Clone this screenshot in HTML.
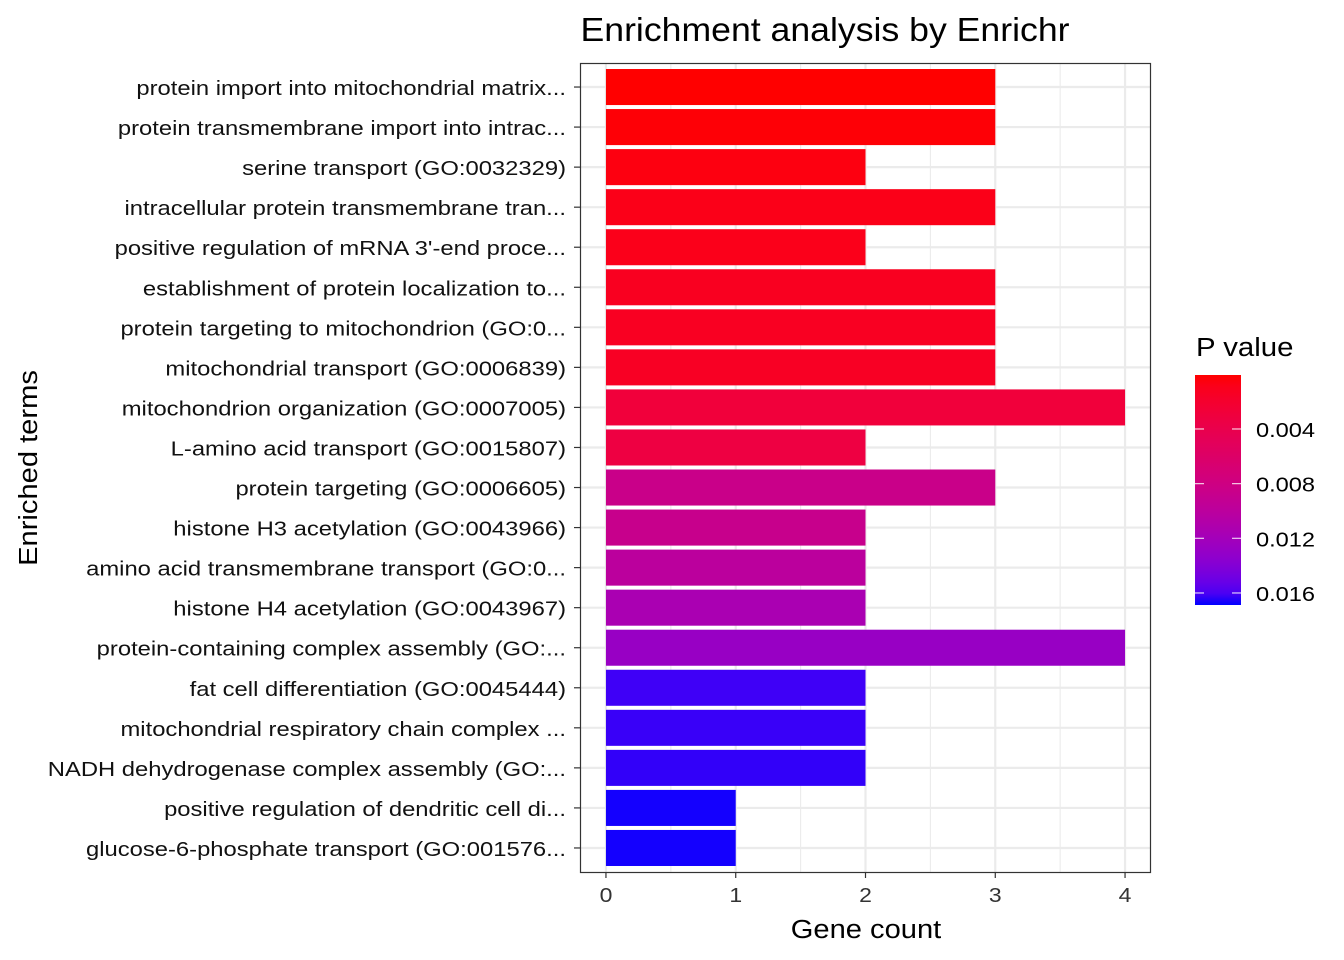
<!DOCTYPE html>
<html><head><meta charset="utf-8"><style>
body{margin:0;background:#fff;}
svg{font-family:"Liberation Sans",Arial,sans-serif;display:block}
</style></head><body>
<svg id="chart" width="1344" height="960" viewBox="0 0 1344 960" xmlns="http://www.w3.org/2000/svg">
<rect width="1344" height="960" fill="#fff"/>
<text transform="translate(825,41) scale(1.08,1)" font-size="33" text-anchor="middle" fill="#000">Enrichment analysis by Enrichr</text>
<g id="grid"></g><g id="bars"></g><g id="axes"></g>
<rect x="580.5" y="63.5" width="570" height="809" fill="none" stroke="#333" stroke-width="1.2"/>
<text transform="translate(866,938) scale(1.12,1)" font-size="26" text-anchor="middle">Gene count</text>
<text transform="translate(37,468) rotate(-90) scale(1.12,1)" font-size="26" text-anchor="middle">Enriched terms</text>
<g>
<text transform="translate(1196,356) scale(1.13,1)" font-size="26">P value</text>
<defs><linearGradient id="lg" x1="0" y1="0" x2="0" y2="1"></linearGradient></defs>
<rect x="1195" y="375" width="46" height="230" fill="url(#lg)"/>
<g id="legticks"></g>
</g>
</svg>
<script>
const terms=["protein import into mitochondrial matrix...","protein transmembrane import into intrac...","serine transport (GO:0032329)","intracellular protein transmembrane tran...","positive regulation of mRNA 3'-end proce...","establishment of protein localization to...","protein targeting to mitochondrion (GO:0...","mitochondrial transport (GO:0006839)","mitochondrion organization (GO:0007005)","L-amino acid transport (GO:0015807)","protein targeting (GO:0006605)","histone H3 acetylation (GO:0043966)","amino acid transmembrane transport (GO:0...","histone H4 acetylation (GO:0043967)","protein-containing complex assembly (GO:...","fat cell differentiation (GO:0045444)","mitochondrial respiratory chain complex ...","NADH dehydrogenase complex assembly (GO:...","positive regulation of dendritic cell di...","glucose-6-phosphate transport (GO:001576..."];
const counts=[3,3,2,3,2,3,3,3,4,2,3,2,2,2,4,2,2,2,1,1];
const pvals=[0.00005,0.0002,0.0005,0.0008,0.0009,0.0012,0.0013,0.0014,0.0028,0.0033,0.0085,0.0087,0.0100,0.0115,0.0128,0.0163,0.0164,0.0165,0.0168,0.0168];
const xTicks=[0,1,2,3,4];
const legTicks=[0.004,0.008,0.012,0.016];
const pMin=0.00005,pMax=0.01688;
const NS="http://www.w3.org/2000/svg";
const X0=580,X1=1151,xmin=-0.2,xmax=4.2,Y0=63,Y1=872;
const xs=v=>X0+(v-xmin)/(xmax-xmin)*(X1-X0);
const step=(Y1-Y0)/(terms.length-1+1.2);
const ys=i=>Y0+(0.6+i)*step;
function mk(t,a,p){const e=document.createElementNS(NS,t);for(const k in a)e.setAttribute(k,a[k]);p.appendChild(e);return e;}
function s2l(c){c/=255;return c<=0.04045?c/12.92:Math.pow((c+0.055)/1.055,2.4);}
function l2s(c){c=c<=0.0031308?12.92*c:1.055*Math.pow(c,1/2.4)-0.055;return Math.max(0,Math.min(255,Math.round(c*255)));}
function toLab(r,g,b){r=s2l(r);g=s2l(g);b=s2l(b);let X=(0.4124*r+0.3576*g+0.1805*b)/0.95047,Y=0.2126*r+0.7152*g+0.0722*b,Z=(0.0193*r+0.1192*g+0.9505*b)/1.08883;const f=t=>t>0.008856?Math.cbrt(t):7.787*t+16/116;return [116*f(Y)-16,500*(f(X)-f(Y)),200*(f(Y)-f(Z))];}
function fromLab(L,a,b){let fy=(L+16)/116,fx=fy+a/500,fz=fy-b/200;const fi=t=>t*t*t>0.008856?t*t*t:(t-16/116)/7.787;let X=fi(fx)*0.95047,Y=fi(fy),Z=fi(fz)*1.08883;let r=3.2406*X-1.5372*Y-0.4986*Z,g=-0.9689*X+1.8758*Y+0.0415*Z,bb=0.0557*X-0.2040*Y+1.0570*Z;return `rgb(${l2s(r)},${l2s(g)},${l2s(bb)})`;}
const LR=toLab(255,0,0),LB=toLab(0,0,255);
function col(p){let t=(p-pMin)/(pMax-pMin);t=Math.max(0,Math.min(1,t));return fromLab(LR[0]+(LB[0]-LR[0])*t,LR[1]+(LB[1]-LR[1])*t,LR[2]+(LB[2]-LR[2])*t);}
const grid=document.getElementById('grid'),bars=document.getElementById('bars'),axes=document.getElementById('axes');
for(let v=-0.5;v<=4.5;v+=1){if(v<xmin||v>xmax)continue;const l=mk('line',{x1:xs(v),x2:xs(v),y1:Y0,y2:Y1,stroke:'#ebebeb','stroke-width':1.1},grid);

}
xTicks.forEach(v=>{const l=mk('line',{x1:xs(v),x2:xs(v),y1:Y0,y2:Y1,stroke:'#ebebeb','stroke-width':2.2},grid);


const t=mk('line',{x1:xs(v),x2:xs(v),y1:Y1,y2:Y1+6,stroke:'#333','stroke-width':1.2},axes);


const tx=mk('text',{transform:`translate(${xs(v)},${Y1+30}) scale(1.15,1)`,'font-size':20,'text-anchor':'middle',fill:'#333'},axes);tx.textContent=v;

});
terms.forEach((term,i)=>{const y=ys(i);
const g=mk('line',{x1:X0,x2:X1,y1:y,y2:y,stroke:'#ebebeb','stroke-width':2.2},grid);


const b=mk('rect',{x:xs(0),y:y-step*0.45,width:xs(counts[i])-xs(0),height:step*0.9,fill:col(pvals[i])},bars);


const t=mk('line',{x1:X0-6,x2:X0,y1:y,y2:y,stroke:'#333','stroke-width':1.2},axes);


const tx=mk('text',{transform:`translate(${X0-14},${y+8}) scale(1.19,1)`,'font-size':20,'text-anchor':'end',fill:'#111'},axes);tx.textContent=term;

});
const lg=document.getElementById('lg');
for(let k=0;k<=20;k++){mk('stop',{offset:(k/20),'stop-color':col(pMin+(pMax-pMin)*k/20)},lg);}
const LT=375,LBt=605,lt=document.getElementById('legticks');
const ly=p=>LT+(p-pMin)/(pMax-pMin)*(LBt-LT);
legTicks.forEach(p=>{const y=ly(p);
[[1195,1204],[1232,1241]].forEach(([a,b])=>{const l=mk('line',{x1:a,x2:b,y1:y,y2:y,stroke:'#fff','stroke-width':1.2,opacity:0.8},lt);

});
const tx=mk('text',{transform:`translate(1256,${y+8}) scale(1.18,1)`,'font-size':20,fill:'#000'},lt);tx.textContent=p.toFixed(3);

});
</script>
</body></html>
